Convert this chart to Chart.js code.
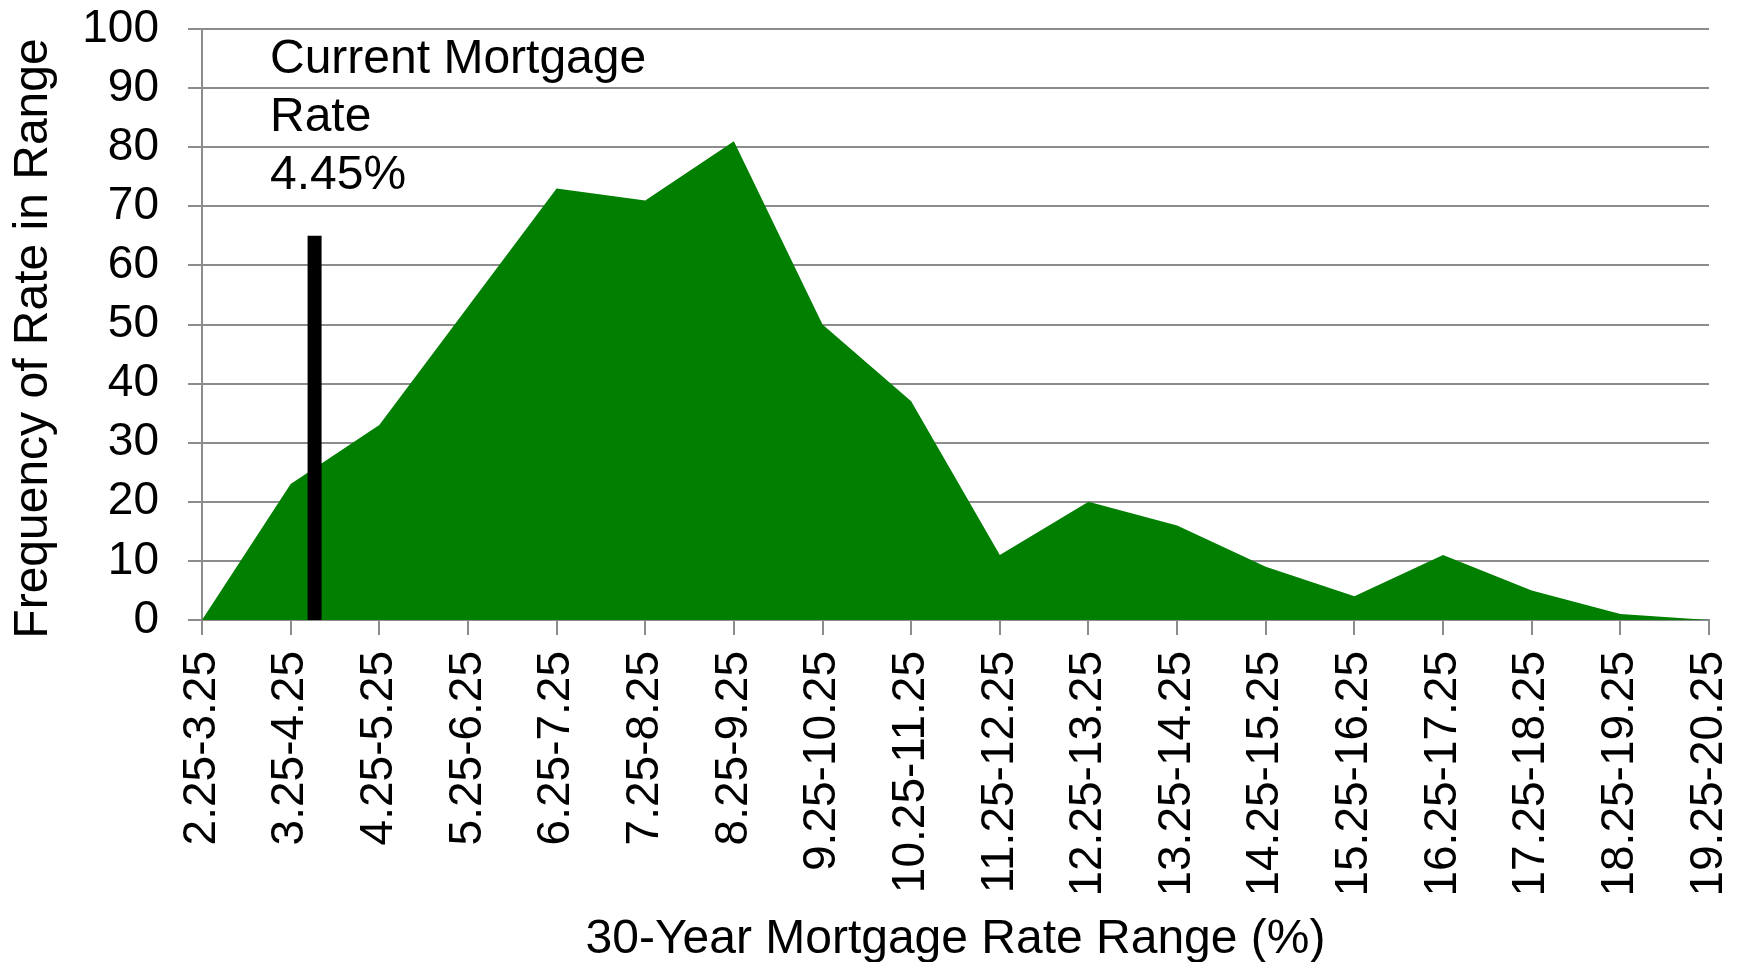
<!DOCTYPE html>
<html>
<head>
<meta charset="utf-8">
<script src="https://cdn.jsdelivr.net/npm/chart.js@4.4.1/dist/chart.umd.min.js"></script>
<style>
  html, body { margin: 0; padding: 0; background: #ffffff; }
  #wrap { width: 1743px; height: 962px; position: relative; }
</style>
</head>
<body>
<div id="wrap"><canvas id="c"></canvas></div>
<script>
// ---- Data ----
const categories = [
  '2.25-3.25', '3.25-4.25', '4.25-5.25', '5.25-6.25', '6.25-7.25', '7.25-8.25',
  '8.25-9.25', '9.25-10.25', '10.25-11.25', '11.25-12.25', '12.25-13.25', '13.25-14.25',
  '14.25-15.25', '15.25-16.25', '16.25-17.25', '17.25-18.25', '18.25-19.25', '19.25-20.25'
];
const frequencies = [0, 23, 33, 53, 73, 71, 81, 50, 37, 11, 20, 16, 9, 4, 11, 5, 1, 0];
const yTickValues = [0, 10, 20, 30, 40, 50, 60, 70, 80, 90, 100];
const currentRateMarkerX = [1.27, 1.27];   // position on the category axis
const currentRateMarkerY = [0, 65];
const currentRateLabel = ['Current Mortgage', 'Rate', '4.45%'];
const xAxisTitle = '30-Year Mortgage Rate Range (%)';
const yAxisTitle = 'Frequency of Rate in Range';

// ---- Styling ----
const FONT = '"Liberation Sans", Arial, Helvetica, sans-serif';
const GRID = '#8c8c8c';

const areaPoints = frequencies.map((v, i) => ({ x: i, y: v }));
const markerPoints = currentRateMarkerX.map((x, i) => ({ x: x, y: currentRateMarkerY[i] }));

const annotationPlugin = {
  id: 'currentRateAnnotation',
  afterDraw(chart) {
    const { ctx, chartArea } = chart;
    ctx.save();
    ctx.font = '48px ' + FONT;
    ctx.fillStyle = '#000000';
    ctx.textAlign = 'left';
    ctx.textBaseline = 'alphabetic';
    currentRateLabel.forEach((line, i) => {
      ctx.fillText(line, chartArea.left + 68, chartArea.top + 44 + i * 58);
    });
    // y axis title (slightly below the plot-area centre, as in the reference)
    ctx.translate(chart.scales.y.left + 34, (chartArea.top + chartArea.bottom) / 2 + 14);
    ctx.rotate(-Math.PI / 2);
    ctx.textAlign = 'center';
    ctx.textBaseline = 'middle';
    ctx.fillText(yAxisTitle, 0, 0);
    ctx.restore();
  }
};

new Chart(document.getElementById('c'), {
  type: 'line',
  data: {
    datasets: [
      {
        label: 'Current Mortgage Rate 4.45%',
        data: markerPoints,
        borderColor: '#000000',
        borderWidth: 14,
        borderCapStyle: 'butt',
        pointRadius: 0,
        fill: false,
        tension: 0
      },
      {
        label: 'Frequency',
        data: areaPoints,
        borderWidth: 0,
        borderColor: 'rgba(0,0,0,0)',
        backgroundColor: '#007f00',
        fill: 'origin',
        pointRadius: 0,
        tension: 0
      }
    ]
  },
  plugins: [annotationPlugin],
  options: {
    responsive: true,
    maintainAspectRatio: false,
    animation: false,
    layout: { padding: { left: 0, right: 34, top: 29, bottom: 0 } },
    plugins: {
      legend: { display: false },
      tooltip: { enabled: false }
    },
    scales: {
      x: {
        type: 'linear',
        min: 0,
        max: categories.length - 1,
        afterFit(scale) {
          scale.height = 342;
          scale.paddingLeft = 0;
          scale.paddingRight = 0;
        },
        afterBuildTicks(scale) {
          scale.ticks = categories.map((c, i) => ({ value: i }));
        },
        ticks: {
          autoSkip: false,
          minRotation: 90,
          maxRotation: 90,
          padding: 16,
          color: '#000000',
          font: { family: FONT, size: 46 },
          callback: (value) => categories[value]
        },
        grid: {
          drawOnChartArea: false,
          drawTicks: true,
          tickLength: 15,
          color: GRID,
          lineWidth: 2
        },
        border: { display: true, color: GRID, width: 2 },
        title: {
          display: true,
          text: xAxisTitle,
          color: '#000000',
          font: { family: FONT, size: 48 },
          padding: { top: 0, bottom: -7 }
        }
      },
      y: {
        min: 0,
        max: 100,
        afterFit(scale) {
          scale.width = 202;
          scale.paddingTop = 0;
          scale.paddingBottom = 0;
        },
        afterBuildTicks(scale) {
          scale.ticks = yTickValues.map(v => ({ value: v }));
        },
        ticks: {
          autoSkip: false,
          padding: 29,
          color: '#000000',
          font: { family: FONT, size: 46 }
        },
        grid: {
          drawTicks: true,
          tickLength: 14,
          color: GRID,
          lineWidth: 2
        },
        border: { display: true, color: GRID, width: 2 },
        title: { display: false, text: yAxisTitle }
      }
    }
  }
});
</script>
</body>
</html>
